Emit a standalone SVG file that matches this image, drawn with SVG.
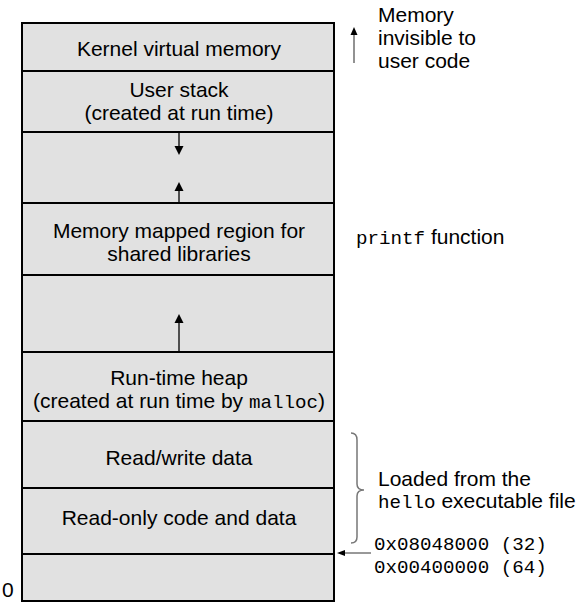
<svg xmlns="http://www.w3.org/2000/svg" width="581" height="604" viewBox="0 0 581 604">
<style>
.sans{font-family:"Liberation Sans",Arial,sans-serif;font-size:21px;fill:#000}
.mono{font-family:"Liberation Mono","Courier New",monospace;font-size:19.2px;fill:#000}
.c{text-anchor:middle}
.seg{fill:#e1e1e1;stroke:#000;stroke-width:2}
.arr{stroke:#000;stroke-width:1.3;fill:none}
.head{fill:#000;stroke:none}
</style>
<rect width="581" height="604" fill="#fff"/>
<g id="kernel"><rect class="seg" x="22" y="23" width="312" height="48"/><text class="sans c" x="179" y="56">Kernel virtual memory</text></g>
<g id="stack"><rect class="seg" x="22" y="71" width="312" height="61"/><text class="sans c" x="179" y="97">User stack</text><text class="sans c" x="179" y="120">(created at run time)</text></g>
<g id="gap1"><rect class="seg" x="22" y="132" width="312" height="71"/></g>
<g id="shared"><rect class="seg" x="22" y="203" width="312" height="72"/><text class="sans c" x="179" y="238">Memory mapped region for</text><text class="sans c" x="179" y="261">shared libraries</text></g>
<g id="gap2"><rect class="seg" x="22" y="275" width="312" height="77"/></g>
<g id="heap"><rect class="seg" x="22" y="352" width="312" height="69"/><text class="sans c" x="179" y="385">Run-time heap</text><text class="sans c" x="179" y="408">(created at run time by <tspan class="mono">malloc</tspan>)</text></g>
<g id="rwdata"><rect class="seg" x="22" y="421" width="312" height="67"/><text class="sans c" x="179" y="465">Read/write data</text></g>
<g id="rodata"><rect class="seg" x="22" y="488" width="312" height="66"/><text class="sans c" x="179" y="525">Read-only code and data</text></g>
<g id="bottom"><rect class="seg" x="22" y="554" width="312" height="47"/></g>
<g id="connectors">
<line class="arr" x1="179" y1="133" x2="179" y2="147"/><polygon class="head" points="174.5,146 183.5,146 179,155"/>
<line class="arr" x1="179" y1="202" x2="179" y2="190"/><polygon class="head" points="174.5,191 183.5,191 179,182"/>
<line class="arr" x1="179" y1="351" x2="179" y2="322"/><polygon class="head" points="174.5,323 183.5,323 179,314"/>
<line x1="354" y1="63" x2="354" y2="34" stroke="#777" stroke-width="1.6"/><polygon class="head" points="350.5,35 357.5,35 354,27"/>
<path d="M351,433 Q357,433 357,440 L357,484 Q357,490 364,490 Q357,490 357,496 L357,537 Q357,543 351,543" fill="none" stroke="#777" stroke-width="1.5"/>
<line x1="371" y1="553" x2="342" y2="553" stroke="#333" stroke-width="1"/><polygon class="head" points="337,553 345,550 345,556"/>
</g>
<g id="labels">
<text class="sans" x="378" y="22">Memory</text>
<text class="sans" x="378" y="45">invisible to</text>
<text class="sans" x="378" y="68">user code</text>
<text x="356" y="244"><tspan class="mono">printf</tspan><tspan class="sans"> function</tspan></text>
<text class="sans" x="378" y="486">Loaded from the</text>
<text x="378" y="508"><tspan class="mono">hello</tspan><tspan class="sans"> executable file</tspan></text>
<text class="mono" x="374" y="550">0x08048000 (32)</text>
<text class="mono" x="374" y="573">0x00400000 (64)</text>
<text class="sans" x="2" y="597">0</text>
</g>
</svg>
